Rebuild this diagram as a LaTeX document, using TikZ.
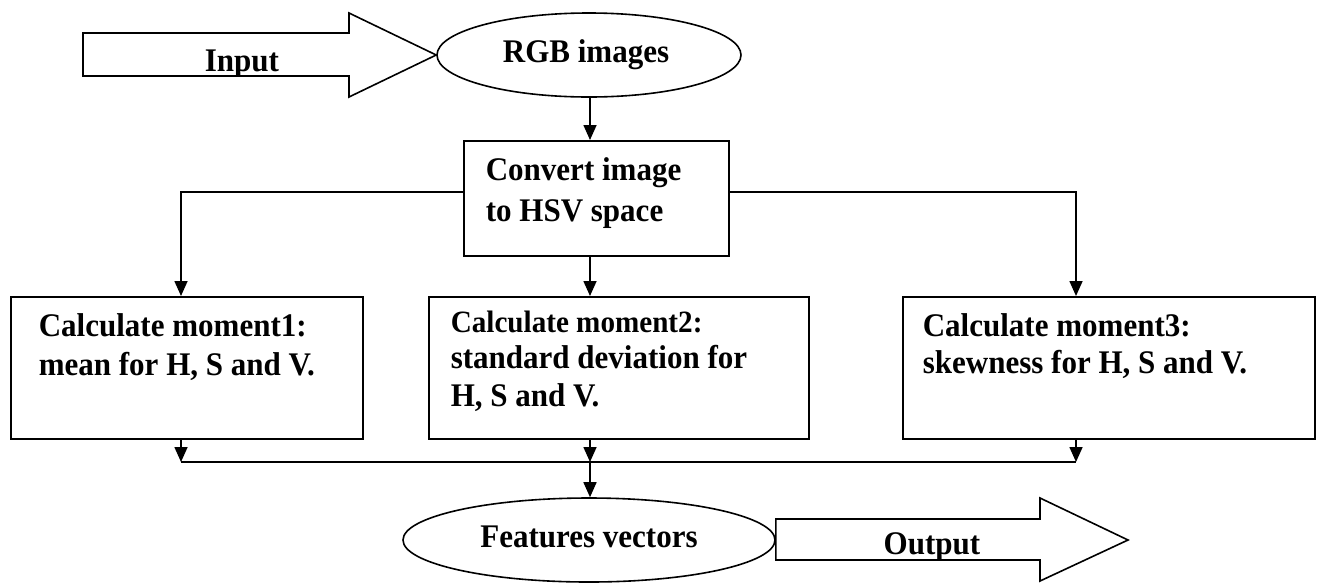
\documentclass[tikz,border=0pt]{standalone}
\usepackage{fontspec}
\setmainfont[FakeStretch=0.94]{Liberation Serif}
\usetikzlibrary{arrows.meta,shapes.geometric}
\begin{document}
\begin{tikzpicture}[x=1pt,y=-1pt,
  line width=1.6pt,
  arr/.style={-{Triangle[width=13pt,length=15pt]}},
  box/.style={draw,rectangle,inner sep=0pt,anchor=north west},
  oval/.style={draw,ellipse,inner sep=0pt},
  txt/.style={anchor=base west,inner sep=0pt,font=\fontsize{33}{33}\selectfont\bfseries},
  txts/.style={anchor=base west,inner sep=0pt,font=\fontsize{31}{31}\selectfont\bfseries},
  ctxt/.style={anchor=base,inner sep=0pt,font=\fontsize{33}{33}\selectfont\bfseries},
  bigarrow/.style={draw,line width=1.6pt,line join=miter}
]
\useasboundingbox (0,0) rectangle (1321,582);

% ellipses
\node[oval,minimum width=304pt,minimum height=84pt] (rgb) at (589,55) {};
\node[ctxt] (rgbt) at (586,62) {RGB images};
\node[oval,minimum width=372pt,minimum height=84pt] (feat) at (589,540) {};
\node[ctxt] (featt) at (589,547) {Features vectors};

% boxes
\node[box,minimum width=265pt,minimum height=115pt] (conv) at (463,140) {};
\node[txt] (convt1) at (485,180) {Convert image};
\node[txt] (convt2) at (485,221) {to HSV space};

\node[box,minimum width=352pt,minimum height=142pt] (m1) at (10,296) {};
\node[txt] (m1t1) at (38,336) {Calculate moment1:};
\node[txt] (m1t2) at (38,375) {mean for H, S and V.};

\node[box,minimum width=380pt,minimum height=142pt] (m2) at (428,296) {};
\node[txts] (m2t1) at (450,332) {Calculate moment2:};
\node[txt] (m2t2) at (450,368) {standard deviation for};
\node[txt] (m2t3) at (450,406) {H, S and V.};

\node[box,minimum width=412pt,minimum height=142pt] (m3) at (902,296) {};
\node[txt] (m3t1) at (922,336) {Calculate moment3:};
\node[txt] (m3t2) at (922,373) {skewness for H, S and V.};

% junction coordinates
\coordinate (tl) at (181,192);
\coordinate (tr) at (1076,192);
\coordinate (bl) at (181,462);
\coordinate (bm) at (590,462);
\coordinate (br) at (1076,462);

% connectors
\draw[arr] (bm |- rgb.south) -- (bm |- conv.north);
\draw[arr] (conv.west |- tl) -- (tl) -- (tl |- m1.north);
\draw[arr] (conv.east |- tr) -- (tr) -- (tr |- m3.north);
\draw[arr] (bm |- conv.south) -- (bm |- m2.north);
\draw[arr] (m1.south -| bl) -- (bl);
\draw[arr] (m2.south -| bm) -- (bm);
\draw[arr] (m3.south -| br) -- (br);
\draw (bl) -- (br);
\draw[arr] (bm) -- (bm |- feat.north);

% input block arrow
\draw[bigarrow] (83,33) -- (349,33) -- (349,13) -- (rgb.west) -- (349,97) -- (349,76) -- (83,76) -- cycle;
\begin{scope}
\clip (84,34) rectangle (348,75);
\node[ctxt] (inp) at (242,71) {Input};
\end{scope}

% output block arrow
\draw[bigarrow] (feat.east |- 0,519) -- (1040,519) -- (1040,498) -- (1128,540) -- (1040,581) -- (1040,560) -- (feat.east |- 0,560) -- cycle;
\begin{scope}
\clip (776,520) rectangle (1039,559);
\node[ctxt] (outp) at (932,554) {Output};
\end{scope}
\end{tikzpicture}
\end{document}
